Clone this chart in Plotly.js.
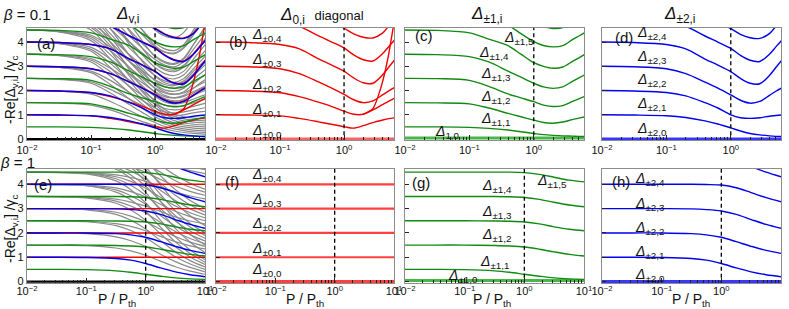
<!DOCTYPE html>
<html><head><meta charset="utf-8">
<script src="https://cdn.plot.ly/plotly-3.0.1.min.js"></script>
<style>html,body{margin:0;padding:0;background:#fff}#plot{width:789px;height:309px}</style>
</head><body><div id="plot"></div><script>
const W = 789, H = 309;
const P_TH = 1;
// sampled pump powers P/Pth
const P_top = [0.01, 0.0316, 0.1, 0.2, 0.398, 0.631, 1, 1.413, 1.995, 2.818, 3.981, 5.012, 6.31];
const P_bot = [0.01, 0.0316, 0.1, 0.316, 0.562, 1, 1.778, 3.162, 5.623, 10];

// beta = 0.1 : -Re[Delta]/gamma_c
const red_top = [
  [0,0,0,0,0,0,0,0,0,0,0,0,0],
  [1.0, 0.99, 0.955, 0.85, 0.71, 0.61, 0.51, 0.45, 0.55, 0.68, 0.78, 0.84, 0.88],
  [2.0, 1.98, 1.91, 1.75, 1.52, 1.35, 1.15, 1.02, 1.02, 1.2, 1.42, 1.56, 1.7],
  [3.0, 2.98, 2.9, 2.7, 2.36, 2.11, 1.84, 1.62, 1.5, 1.57, 1.82, 1.99, 2.14],
  [4.0, 3.98, 3.9, 3.72, 3.31, 3.06, 2.8, 2.52, 2.32, 2.3, 2.64, 2.97, 3.3],
  [5.0, 4.97, 4.88, 4.65, 4.26, 4.01, 3.76, 3.47, 3.27, 3.22, 3.52, 3.82, 4.12],
  [6.0, 5.97, 5.85, 5.6, 5.16, 4.86, 4.57, 4.34, 4.2, 4.17, 4.37, 4.67, 5.02]
];
const red_steep_P = [1.995, 2.818, 3.802, 4.898, 5.888, 6.607];
const red_steep_v = [1.02, 1.25, 2.16, 3.4, 4.63, 5.3];
const green_top = [
  [0.04,0.04,0.04,0.04,0.04,0.04,0.04,0.04,0.04,0.04,0.04,0.04,0.04],
  [0.5, 0.5, 0.48, 0.44, 0.37, 0.3, 0.23, 0.18, 0.15, 0.13, 0.12, 0.11, 0.1],
  [1.5, 1.49, 1.45, 1.28, 1.06, 0.92, 0.78, 0.68, 0.65, 0.7, 0.8, 0.86, 0.92],
  [2.5, 2.49, 2.42, 2.17, 1.86, 1.7, 1.54, 1.4, 1.34, 1.38, 1.55, 1.66, 1.76],
  [3.5, 3.48, 3.4, 3.18, 2.8, 2.55, 2.3, 2.15, 2.09, 2.15, 2.38, 2.52, 2.66],
  [4.5, 4.48, 4.38, 4.12, 3.85, 3.5, 3.15, 3.0, 2.92, 2.97, 3.2, 3.35, 3.5],
  [5.5, 5.47, 5.36, 5.08, 4.7, 4.35, 4.02, 3.86, 3.8, 3.85, 4.1, 4.25, 4.4],
  [6.5, 6.46, 6.33, 6.0, 5.5, 5.15, 4.85, 4.65, 4.56, 4.6, 4.9, 5.1, 5.3]
];
const blue_top = [
  [0,0,0,0,0,0,0,0,0,0,0,0,0],
  [1.0, 0.99, 0.96, 0.89, 0.75, 0.62, 0.46, 0.33, 0.23, 0.17, 0.13, 0.11, 0.1],
  [2.0, 1.98, 1.92, 1.78, 1.5, 1.28, 1.0, 0.88, 0.85, 0.88, 0.94, 0.97, 1.0],
  [3.0, 2.98, 2.9, 2.7, 2.35, 2.1, 1.82, 1.6, 1.48, 1.55, 1.8, 1.97, 2.12],
  [4.0, 3.98, 3.9, 3.72, 3.3, 3.05, 2.78, 2.5, 2.3, 2.28, 2.62, 2.95, 3.28],
  [5.0, 4.97, 4.88, 4.65, 4.25, 4.0, 3.74, 3.45, 3.25, 3.2, 3.5, 3.8, 4.1],
  [6.0, 5.97, 5.85, 5.6, 5.15, 4.85, 4.55, 4.32, 4.18, 4.15, 4.35, 4.65, 5.0]
];
const gray_top = [
  [1.5, 1.48, 1.4, 1.2, 0.92, 0.72, 0.55, 0.42, 0.33, 0.27, 0.23, 0.21, 0.2],
  [2.0, 1.97, 1.85, 1.55, 1.18, 0.92, 0.68, 0.52, 0.42, 0.35, 0.3, 0.28, 0.27],
  [2.5, 2.46, 2.3, 1.9, 1.42, 1.1, 0.8, 0.62, 0.5, 0.42, 0.37, 0.35, 0.34],
  [3.0, 2.95, 2.74, 2.25, 1.65, 1.27, 0.92, 0.72, 0.58, 0.5, 0.45, 0.43, 0.42],
  [3.5, 3.44, 3.18, 2.6, 1.9, 1.45, 1.05, 0.82, 0.67, 0.58, 0.53, 0.51, 0.5],
  [4.0, 3.93, 3.62, 2.95, 2.15, 1.62, 1.17, 0.92, 0.76, 0.66, 0.61, 0.59, 0.58],
  [4.5, 4.42, 4.06, 3.3, 2.38, 1.8, 1.3, 1.02, 0.85, 0.75, 0.7, 0.68, 0.67],
  [5.0, 4.9, 4.5, 3.65, 2.6, 1.95, 1.42, 1.12, 0.94, 0.83, 0.78, 0.76, 0.75],
  [5.5, 5.4, 4.95, 4.0, 2.85, 2.12, 1.55, 1.22, 1.03, 0.92, 0.86, 0.84, 0.83],
  [2.5, 2.47, 2.36, 2.05, 1.65, 1.38, 1.1, 0.98, 0.95, 1.0, 1.08, 1.12, 1.15],
  [3.0, 2.96, 2.8, 2.42, 1.92, 1.6, 1.28, 1.12, 1.08, 1.12, 1.2, 1.25, 1.3],
  [3.5, 3.45, 3.25, 2.78, 2.18, 1.8, 1.44, 1.26, 1.2, 1.25, 1.35, 1.42, 1.48],
  [4.0, 3.94, 3.7, 3.12, 2.42, 2.0, 1.6, 1.4, 1.33, 1.37, 1.5, 1.58, 1.65],
  [4.5, 4.43, 4.15, 3.48, 2.68, 2.2, 1.76, 1.53, 1.45, 1.5, 1.65, 1.75, 1.84],
  [5.0, 4.92, 4.6, 3.85, 2.95, 2.42, 1.92, 1.67, 1.58, 1.62, 1.8, 1.92, 2.02],
  [5.5, 5.41, 5.05, 4.2, 3.2, 2.62, 2.08, 1.8, 1.7, 1.76, 1.96, 2.08, 2.2],
  [6.0, 5.9, 5.5, 4.55, 3.45, 2.8, 2.22, 1.95, 1.85, 1.9, 2.1, 2.25, 2.38],
  [3.5, 3.46, 3.32, 2.92, 2.42, 2.1, 1.78, 1.6, 1.55, 1.65, 1.9, 2.05, 2.2],
  [4.0, 3.95, 3.78, 3.3, 2.7, 2.32, 1.95, 1.75, 1.7, 1.8, 2.1, 2.3, 2.48],
  [4.5, 4.44, 4.22, 3.65, 2.95, 2.52, 2.1, 1.9, 1.84, 1.95, 2.28, 2.5, 2.7],
  [5.0, 4.93, 4.66, 4.0, 3.2, 2.72, 2.25, 2.03, 1.97, 2.1, 2.45, 2.68, 2.9],
  [5.5, 5.42, 5.1, 4.35, 3.45, 2.92, 2.4, 2.16, 2.1, 2.24, 2.62, 2.86, 3.1],
  [6.5, 6.4, 6.0, 5.05, 3.9, 3.2, 2.6, 2.32, 2.25, 2.4, 2.8, 3.05, 3.3],
  [4.5, 4.45, 4.28, 3.8, 3.2, 2.82, 2.45, 2.25, 2.2, 2.35, 2.7, 2.95, 3.2],
  [5.0, 4.94, 4.74, 4.18, 3.48, 3.04, 2.62, 2.4, 2.34, 2.5, 2.9, 3.18, 3.45],
  [5.5, 5.43, 5.2, 4.55, 3.75, 3.25, 2.78, 2.55, 2.48, 2.65, 3.1, 3.4, 3.7],
  [6.0, 5.92, 5.65, 4.92, 4.02, 3.47, 2.95, 2.7, 2.62, 2.8, 3.3, 3.62, 3.95],
  [7.0, 6.9, 6.55, 5.6, 4.45, 3.75, 3.1, 2.85, 2.78, 2.98, 3.5, 3.85, 4.2],
  [5.5, 5.44, 5.25, 4.7, 4.0, 3.55, 3.12, 2.9, 2.85, 3.05, 3.5, 3.85, 4.2],
  [6.0, 5.93, 5.7, 5.05, 4.25, 3.75, 3.28, 3.05, 2.98, 3.2, 3.7, 4.05, 4.4],
  [6.5, 6.42, 6.15, 5.42, 4.5, 3.95, 3.44, 3.2, 3.12, 3.35, 3.9, 4.28, 4.65],
  [7.5, 7.4, 7.0, 6.0, 4.8, 4.05, 3.4, 3.15, 3.08, 3.3, 3.9, 4.3, 4.7],
  [6.5, 6.43, 6.2, 5.6, 4.8, 4.3, 3.8, 3.58, 3.52, 3.75, 4.3, 4.7, 5.1],
  [7.0, 6.92, 6.66, 5.95, 5.05, 4.5, 3.97, 3.72, 3.65, 3.9, 4.5, 4.9, 5.3],
  [8.0, 7.9, 7.5, 6.5, 5.3, 4.5, 3.85, 3.6, 3.55, 3.8, 4.4, 4.8, 5.2],
  [7.5, 7.42, 7.15, 6.45, 5.55, 5.0, 4.5, 4.25, 4.18, 4.4, 5.0, 5.4, 5.8]
];

// beta = 1
const red_bot = [
  [0,0,0,0,0,0,0,0,0,0],
  [1,1,1,1,1,1,1,1,1,1],
  [2,2,2,2,2,2,2,2,2,2],
  [3,3,3,3,3,3,3,3,3,3],
  [4,4,4,4,4,4,4,4,4,4]
];
const green_bot = [
  [0.04,0.04,0.04,0.04,0.04,0.04,0.04,0.04,0.04,0.04],
  [0.5, 0.5, 0.49, 0.44, 0.38, 0.3, 0.22, 0.15, 0.11, 0.09],
  [1.5, 1.5, 1.5, 1.48, 1.46, 1.42, 1.33, 1.22, 1.12, 1.05],
  [2.5, 2.5, 2.5, 2.49, 2.48, 2.45, 2.37, 2.25, 2.15, 2.09],
  [3.5, 3.5, 3.5, 3.5, 3.49, 3.46, 3.38, 3.26, 3.15, 3.08],
  [4.5, 4.5, 4.5, 4.5, 4.5, 4.48, 4.41, 4.29, 4.17, 4.1]
];
const blue_bot = [
  [0,0,0,0,0,0,0,0,0,0],
  [1.0, 1.0, 0.99, 0.95, 0.88, 0.74, 0.56, 0.4, 0.28, 0.2],
  [2.0, 2.0, 2.0, 1.97, 1.92, 1.82, 1.64, 1.45, 1.28, 1.16],
  [3.0, 3.0, 3.0, 2.99, 2.96, 2.9, 2.76, 2.55, 2.35, 2.19],
  [4.0, 4.0, 4.0, 4.0, 3.99, 3.97, 3.86, 3.66, 3.45, 3.28],
  [5.0, 5.0, 5.0, 5.0, 5.0, 4.98, 4.9, 4.72, 4.5, 4.31]
];
const gray_bot = [
  [1.5, 1.49, 1.48, 1.38, 1.26, 1.08, 0.84, 0.61, 0.43, 0.3],
  [2.5, 2.49, 2.48, 2.38, 2.27, 2.09, 1.86, 1.64, 1.47, 1.34],
  [3.5, 3.49, 3.48, 3.39, 3.27, 3.1, 2.88, 2.66, 2.49, 2.37],
  [4.5, 4.49, 4.48, 4.39, 4.28, 4.12, 3.9, 3.69, 3.52, 3.4],
  [5.5, 5.49, 5.48, 5.39, 5.29, 5.13, 4.92, 4.72, 4.56, 4.44],
  [2.0, 1.99, 1.97, 1.84, 1.68, 1.44, 1.12, 0.82, 0.58, 0.4],
  [3.0, 2.99, 2.97, 2.85, 2.69, 2.46, 2.15, 1.85, 1.62, 1.45],
  [4.0, 3.99, 3.97, 3.85, 3.7, 3.48, 3.18, 2.89, 2.67, 2.5],
  [5.0, 4.99, 4.97, 4.86, 4.71, 4.49, 4.2, 3.93, 3.71, 3.55],
  [6.0, 5.99, 5.97, 5.86, 5.72, 5.51, 5.23, 4.96, 4.75, 4.6],
  [2.5, 2.49, 2.46, 2.3, 2.1, 1.8, 1.4, 1.02, 0.72, 0.5],
  [3.5, 3.49, 3.46, 3.31, 3.11, 2.82, 2.43, 2.06, 1.77, 1.56],
  [4.5, 4.49, 4.46, 4.31, 4.12, 3.84, 3.47, 3.11, 2.83, 2.62],
  [5.5, 5.49, 5.46, 5.32, 5.14, 4.86, 4.5, 4.15, 3.88, 3.68],
  [3.0, 2.99, 2.95, 2.76, 2.52, 2.16, 1.68, 1.22, 0.86, 0.6],
  [4.0, 3.99, 3.95, 3.77, 3.53, 3.18, 2.72, 2.28, 1.93, 1.67],
  [5.0, 4.99, 4.95, 4.77, 4.55, 4.21, 3.76, 3.33, 2.99, 2.74],
  [6.0, 5.99, 5.96, 5.78, 5.56, 5.23, 4.79, 4.37, 4.04, 3.8],
  [3.5, 3.49, 3.44, 3.22, 2.94, 2.52, 1.96, 1.43, 1.01, 0.7],
  [4.5, 4.49, 4.45, 4.23, 3.96, 3.55, 3.0, 2.49, 2.08, 1.78],
  [5.5, 5.49, 5.45, 5.24, 4.97, 4.58, 4.05, 3.55, 3.15, 2.86],
  [4.0, 3.98, 3.94, 3.68, 3.36, 2.88, 2.24, 1.63, 1.15, 0.8],
  [5.0, 4.98, 4.94, 4.69, 4.38, 3.92, 3.3, 2.71, 2.24, 1.9],
  [6.0, 5.99, 5.94, 5.7, 5.4, 4.95, 4.35, 3.78, 3.33, 3.0],
  [4.5, 4.48, 4.43, 4.14, 3.78, 3.24, 2.52, 1.84, 1.3, 0.9],
  [5.5, 5.48, 5.43, 5.15, 4.8, 4.28, 3.58, 2.91, 2.39, 2.0],
  [5.0, 4.98, 4.92, 4.62, 4.24, 3.67, 2.91, 2.19, 1.62, 1.2],
  [6.0, 5.98, 5.93, 5.63, 5.26, 4.71, 3.97, 3.26, 2.71, 2.3],
  [5.5, 5.48, 5.42, 5.1, 4.7, 4.1, 3.3, 2.54, 1.94, 1.5]
];

const y_ticks = [0, 1, 2, 3, 4];
const x_ticks = [0.01, 0.1, 1, 10];
const x_tick_text = ['10<sup>\u22122</sup>', '10<sup>\u22121</sup>', '10<sup>0</sup>', '10<sup>1</sup>'];
const x_minor = [];
[0.01, 0.1, 1].forEach(d => { for (let k = 2; k <= 9; k++) x_minor.push(d * k); });

const RED = '#f00000', GREEN = '#108a10', BLUE = '#0000f0', GRAY = '#8a8a8a';
const F = 'Liberation Sans, Arial, sans-serif';
const traces = [];
function add(k, P, ys, color, width, smooth) {
  const s = k === 1 ? '' : String(k);
  traces.push({x: P, y: ys, xaxis: 'x' + s, yaxis: 'y' + s, type: 'scatter', mode: 'lines',
    line: {color: color, width: width, shape: 'spline', smoothing: smooth === undefined ? 0.9 : smooth},
    hoverinfo: 'skip', showlegend: false});
}
function addSet(k, P, set, color, width, zeroColor, zeroWidth, skipZero) {
  set.forEach((ys, i) => {
    if (i === 0) { if (!skipZero) add(k, P, ys, zeroColor, zeroWidth); }
    else add(k, P, ys, color, width);
  });
}
// (a)
gray_top.forEach(ys => add(1, P_top, ys, GRAY, 1.2));
addSet(1, P_top, red_top, RED, 1.4, RED, 1, true);
add(1, red_steep_P, red_steep_v, RED, 1.4, 0.6);
addSet(1, P_top, green_top, GREEN, 1.4, GREEN, 1, true);
addSet(1, P_top, blue_top, BLUE, 1.4, BLUE, 1, true);
add(1, [P_top[0], P_top[P_top.length - 1]], [0, 0], '#000', 2.2);
// (b)
addSet(2, P_top, red_top, RED, 1.4, 'rgba(255,60,60,0.8)', 3);
add(2, red_steep_P, red_steep_v, RED, 1.4, 0.6);
// (c)
addSet(3, P_top, green_top, GREEN, 1.4, 'rgba(40,170,40,0.85)', 3);
// (d)
addSet(4, P_top, blue_top, BLUE, 1.4, 'rgba(20,20,255,0.85)', 3);
// (e)
gray_bot.forEach(ys => add(5, P_bot, ys, GRAY, 1.2));
addSet(5, P_bot, red_bot, RED, 1.4, RED, 1, true);
addSet(5, P_bot, green_bot, GREEN, 1.4, GREEN, 1, true);
addSet(5, P_bot, blue_bot, BLUE, 1.4, BLUE, 1, true);
add(5, [P_bot[0], P_bot[P_bot.length - 1]], [0, 0], '#000', 2.2);
// (f)
red_bot.forEach((ys, i) => add(6, P_bot, ys, 'rgba(255,30,30,0.85)', i === 0 ? 3 : 2.2));
// (g)
addSet(7, P_bot, green_bot, GREEN, 1.4, 'rgba(40,170,40,0.85)', 3);
// (h)
addSet(8, P_bot, blue_bot, BLUE, 1.4, 'rgba(20,20,255,0.85)', 3);
// threshold lines
for (let k = 1; k <= 8; k++) {
  const s = k === 1 ? '' : String(k);
  traces.push({x: [P_TH, P_TH], y: [-1, 6], xaxis: 'x' + s, yaxis: 'y' + s, mode: 'lines',
    line: {color: '#000', width: 1.3, dash: '4px,3px'}, hoverinfo: 'skip', showlegend: false});
}

const colX = [[27, 205], [216, 394], [405, 584], [602, 781]];
const rowY = [[28, 140], [169, 283]];
const layout = {width: W, height: H, margin: {l: 0, r: 0, t: 0, b: 0}, paper_bgcolor: '#fff', plot_bgcolor: '#fff',
  font: {family: F, color: '#111'}, showlegend: false, annotations: []};
for (let k = 1; k <= 8; k++) {
  const row = k <= 4 ? 0 : 1, col = (k - 1) % 4, s = k === 1 ? '' : String(k);
  layout['xaxis' + s] = {domain: [colX[col][0] / W, colX[col][1] / W], anchor: 'y' + s, type: 'log',
    range: row === 0 ? [-2, 0.78] : [-2, 1], tickmode: 'array', tickvals: x_ticks, ticktext: x_tick_text,
    ticks: 'inside', ticklen: 5, tickwidth: 1, tickcolor: '#222', showline: true, linecolor: '#8c8c8c', linewidth: 1.2,
    mirror: true, showgrid: false, zeroline: false, tickfont: {size: 11, family: F, color: '#111'},
    ticklabelstandoff: row === 1 ? -2 : 0,
    minor: {tickmode: 'array', tickvals: x_minor, ticks: 'inside', ticklen: 3, tickcolor: '#222', showgrid: false}};
  layout['yaxis' + s] = {domain: [1 - rowY[row][1] / H, 1 - rowY[row][0] / H], anchor: 'x' + s,
    range: row === 0 ? [-0.04, 4.58] : [-0.06, 4.63], tickmode: 'array', tickvals: y_ticks,
    showticklabels: col === 0, ticks: 'inside', ticklen: 4, tickcolor: '#222', showline: true, linecolor: '#8c8c8c',
    linewidth: 1.2, mirror: true, showgrid: false, zeroline: false, tickfont: {size: 11, family: F, color: '#111'}};
}
function ann(text, x, y, o) {
  layout.annotations.push(Object.assign({text: text, x: x / W, y: 1 - y / H, xref: 'paper', yref: 'paper',
    showarrow: false, xanchor: 'left', yanchor: 'middle', font: {size: 14, family: F, color: '#111'}}, o || {}));
}
const D = s => '<i>\u0394</i><sub>' + s + '</sub>';
// headers
ann('<i>\u03b2</i> = 0.1', 27, 15, {xanchor: 'center', font: {size: 15, family: F, color: '#111'}});
ann('<i>\u03b2</i> = 1', 17, 163, {xanchor: 'center', font: {size: 15, family: F, color: '#111'}});
ann(D('v,i'), 128, 15, {xanchor: 'center', font: {size: 17, family: F, color: '#111'}});
ann(D('0,i') + '  <span style="font-size:13px">diagonal</span>', 322, 16, {xanchor: 'center', font: {size: 17, family: F, color: '#111'}});
ann(D('\u00b11,i'), 487, 15, {xanchor: 'center', font: {size: 17, family: F, color: '#111'}});
ann(D('\u00b12,i'), 680, 15, {xanchor: 'center', font: {size: 17, family: F, color: '#111'}});
// axis titles
const ytitle = '-Re[\u0394<sub>v,i</sub>] /\u03b3<sub>c</sub>';
ann(ytitle, 11, 90, {xanchor: 'center', textangle: -90});
ann(ytitle, 11, 229, {xanchor: 'center', textangle: -90});
[117, 305, 492, 691].forEach(x => ann('P / P<sub>th</sub>', x, 300, {xanchor: 'center', yanchor: 'middle', borderpad: 0, font: {size: 14, family: F, color: '#111'}}));
// panel letters
[['(a)', 35, 43], ['(b)', 227, 42], ['(c)', 413, 36], ['(d)', 613, 38],
 ['(e)', 32, 184], ['(f)', 223, 181], ['(g)', 410, 182], ['(h)', 610, 181]]
  .forEach(p => ann(p[0], p[1], p[2], {font: {size: 15, family: F, color: '#111'}}));
// curve labels
[[D('\u00b10,4'), 250, 35], [D('\u00b10,3'), 250, 60], [D('\u00b10,2'), 250, 85], [D('\u00b10,1'), 250, 110], [D('\u00b10,0'), 250, 131],
 [D('1,0'), 433, 132], [D('\u00b11,1'), 479, 119], [D('\u00b11,2'), 479, 97], [D('\u00b11,3'), 479, 74], [D('\u00b11,4'), 477, 53], [D('\u00b11,5'), 502, 38],
 [D('\u00b12,4'), 635, 33], [D('\u00b12,3'), 635, 57], [D('\u00b12,2'), 635, 80], [D('\u00b12,1'), 635, 104], [D('\u00b12,0'), 635, 129],
 [D('\u00b10,4'), 250, 175], [D('\u00b10,3'), 250, 200], [D('\u00b10,2'), 250, 224], [D('\u00b10,1'), 250, 249], [D('\u00b10,0'), 250, 270],
 [D('\u00b11,4'), 480, 186], [D('\u00b11,3'), 480, 212], [D('\u00b11,2'), 480, 235], [D('\u00b11,1'), 478, 262], [D('\u00b11,0'), 446, 276], [D('\u00b11,5'), 535, 181],
 [D('\u00b12,4'), 633, 179], [D('\u00b12,3'), 633, 204], [D('\u00b12,2'), 633, 228], [D('\u00b12,1'), 633, 252], [D('\u00b12,0'), 633, 275]]
  .forEach(p => ann(p[0], p[1], p[2]));

Plotly.newPlot('plot', traces, layout, {staticPlot: true, displayModeBar: false});
</script></body></html>
